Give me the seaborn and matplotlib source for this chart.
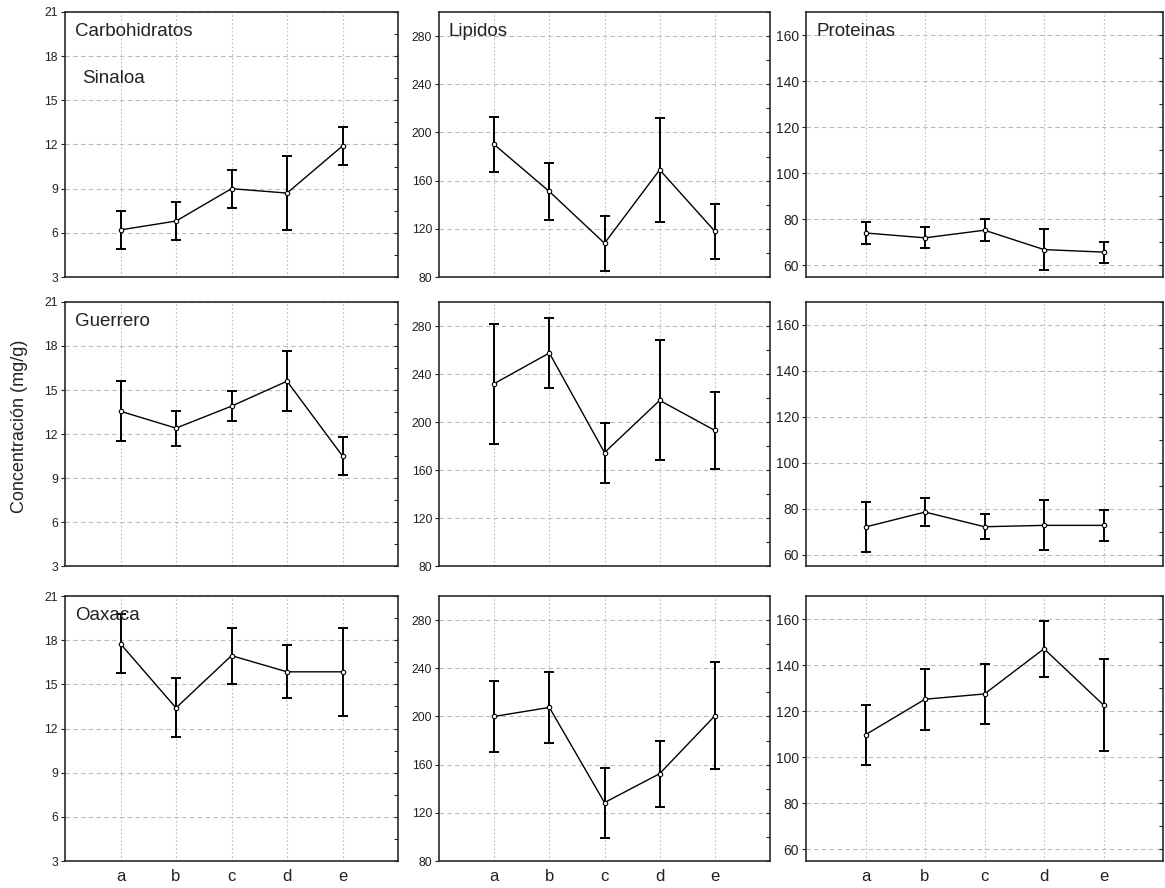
import numpy as np
import pandas as pd
import matplotlib
matplotlib.use('Agg')
import matplotlib.pyplot as plt
import matplotlib.lines as mlines
import seaborn as sns
from matplotlib.ticker import MultipleLocator

# ---- data ----
groups = ['a', 'b', 'c', 'd', 'e']
states = ['Sinaloa', 'Guerrero', 'Oaxaca']
nutrients = ['Carbohidratos', 'Lipidos', 'Proteinas']

carb_sinaloa_mean = [6.2, 6.8, 9.0, 8.7, 11.9]
carb_sinaloa_err = [1.3, 1.3, 1.3, 2.5, 1.3]
carb_guerrero_mean = [13.55, 12.4, 13.9, 15.6, 10.5]
carb_guerrero_err = [2.05, 1.2, 1.03, 2.05, 1.3]
carb_oaxaca_mean = [17.75, 13.4, 16.95, 15.85, 15.85]
carb_oaxaca_err = [2.0, 2.0, 1.9, 1.8, 3.0]

lip_sinaloa_mean = [190, 151, 108, 169, 118]
lip_sinaloa_err = [23, 23.5, 23, 43, 23]
lip_guerrero_mean = [232, 257.5, 174.5, 218, 193]
lip_guerrero_err = [50, 29.5, 25, 50, 32]
lip_oaxaca_mean = [200, 207.5, 128.5, 152.5, 200.5]
lip_oaxaca_err = [29.5, 29.5, 29, 27.5, 44.5]

prot_sinaloa_mean = [74.1, 72.0, 75.3, 66.9, 65.8]
prot_sinaloa_err = [4.8, 4.6, 4.8, 8.8, 4.6]
prot_guerrero_mean = [72.0, 78.5, 72.1, 72.7, 72.7]
prot_guerrero_err = [10.7, 6.2, 5.5, 10.9, 6.7]
prot_oaxaca_mean = [109.8, 125.2, 127.5, 147.1, 122.7]
prot_oaxaca_err = [13.0, 13.2, 13.2, 12.2, 20.0]

panel_data = [
    [(carb_sinaloa_mean, carb_sinaloa_err), (lip_sinaloa_mean, lip_sinaloa_err), (prot_sinaloa_mean, prot_sinaloa_err)],
    [(carb_guerrero_mean, carb_guerrero_err), (lip_guerrero_mean, lip_guerrero_err), (prot_guerrero_mean, prot_guerrero_err)],
    [(carb_oaxaca_mean, carb_oaxaca_err), (lip_oaxaca_mean, lip_oaxaca_err), (prot_oaxaca_mean, prot_oaxaca_err)],
]

# y-axis settings per nutrient column: (ymin, ymax, major step)
y_limits = [(3, 21, 3), (80, 300, 40), (55, 170, 20)]
y_ticks = [np.arange(3, 22, 3), np.arange(80, 281, 40), np.arange(60, 161, 20)]

# ---- layout (pixels in a 1165x888 figure) ----
W, H = 1165, 888
col_px = [(65, 398), (439, 770), (806, 1163)]
row_px = [(12, 277), (302, 566), (596, 861)]

sns.set_theme(style='white')
plt.rcParams['font.family'] = ['Liberation Sans', 'DejaVu Sans']

fig = plt.figure(figsize=(W / 100, H / 100), dpi=100)

pos = np.arange(1, len(groups) + 1)

for r in range(3):
    for c in range(3):
        x0, x1 = col_px[c]
        y0, y1 = row_px[r]
        ax = fig.add_axes([x0 / W, 1 - y1 / H, (x1 - x0) / W, (y1 - y0) / H])
        mean, err = panel_data[r][c]
        df = pd.DataFrame({'pos': pos, 'mean': mean})

        ax.errorbar(pos, mean, yerr=err, fmt='none', ecolor='black',
                    elinewidth=1.4, capsize=3.5, capthick=1.4, zorder=3)
        sns.lineplot(data=df, x='pos', y='mean', ax=ax, color='black',
                     linewidth=1.0, marker='o', markersize=3.2,
                     markerfacecolor='white', markeredgecolor='black',
                     markeredgewidth=0.8, zorder=4)

        ymin, ymax, step = y_limits[c]
        ax.set_xlim(0, 6)
        ax.set_ylim(ymin, ymax)
        ax.set_yticks(y_ticks[c])
        ax.yaxis.set_minor_locator(MultipleLocator(step / 2))
        ax.set_xticks(pos)
        if r == 2:
            ax.set_xticklabels(groups, fontsize=12)
        else:
            ax.set_xticklabels([])
        ax.set_xlabel('')
        ax.set_ylabel('')

        ax.grid(True, axis='y', linestyle=(0, (4, 3)), color='#bcbcbc', linewidth=0.8)
        ax.grid(True, axis='x', linestyle=(0, (1.5, 2)), color='#bcbcbc', linewidth=0.8)
        ax.set_axisbelow(True)

        for s in ax.spines.values():
            s.set_visible(True)
            s.set_color('#2a2a2a')
            s.set_linewidth(1.2)

        lab_size = 10 if c == 2 else 8.8
        ax.tick_params(axis='y', which='major', left=True, right=True,
                       direction='out', length=3, width=0.8, labelsize=lab_size,
                       pad=2, colors='#222222')
        ax.tick_params(axis='y', which='minor', left=False, right=True,
                       direction='in', length=3, width=0.8)
        ax.tick_params(axis='x', which='major', bottom=False, top=False,
                       length=0, pad=6, colors='#222222')
        # right-hand major ticks point inward, like the minor ones
        for t in ax.yaxis.get_major_ticks():
            t.tick2line.set_marker(mlines.TICKLEFT)

        # panel labels
        if r == 0:
            ax.text(0.03, 0.96, nutrients[c], transform=ax.transAxes,
                    ha='left', va='top', fontsize=13.5, color='#222222')
        if c == 0:
            if r == 0:
                ax.text(0.05, 0.78, states[r], transform=ax.transAxes,
                        ha='left', va='top', fontsize=13.5, color='#222222')
            else:
                ax.text(0.03, 0.96, states[r], transform=ax.transAxes,
                        ha='left', va='top', fontsize=13.5, color='#222222')

fig.text(0.017, 0.52, 'Concentración (mg/g)', rotation=90,
         ha='center', va='center', fontsize=13, color='#222222')

fig.savefig('out.png', dpi=100, facecolor='white')
